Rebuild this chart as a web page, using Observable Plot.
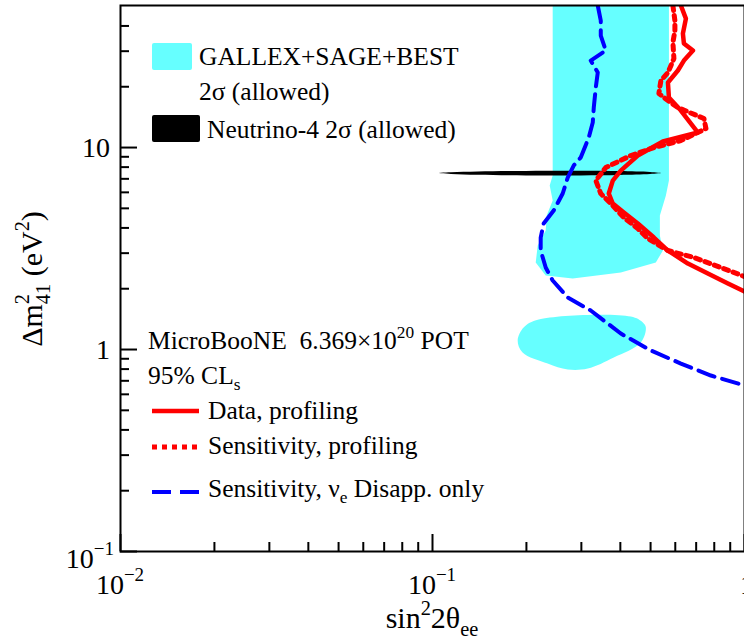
<!DOCTYPE html>
<html><head><meta charset="utf-8">
<script src="https://cdn.jsdelivr.net/npm/d3@7"></script>
<script src="https://cdn.jsdelivr.net/npm/@observablehq/plot@0.6"></script>
<style>body{margin:0;background:#fff} svg{font-family:"Liberation Serif","Times New Roman",serif}</style>
</head><body><div id="chart"></div><script>
// GALLEX+SAGE+BEST 2σ allowed region (upper band)
const gallexX = [0.2428, 0.5725, 0.5725, 0.5598, 0.5355, 0.5355, 0.5475, 0.5197, 0.4013, 0.2814, 0.2306, 0.2142, 0.2174, 0.2306, 0.2323, 0.2428, 0.2375, 0.2428];
const gallexY = [50.5, 50.5, 6.865, 5.786, 4.607, 3.667, 3.091, 2.696, 2.406, 2.246, 2.325, 2.696, 3.273, 3.883, 4.607, 5.465, 6.485, 7.27];
// GALLEX+SAGE+BEST lower island
const islandX = [0.1875, 0.1959, 0.2189, 0.4322, 0.4723, 0.4829, 0.4652, 0.3811, 0.3146, 0.2713, 0.2339, 0.1944];
const islandY = [1.108, 1.285, 1.408, 1.457, 1.361, 1.285, 1.083, 0.913, 0.805, 0.796, 0.852, 0.966];
// Neutrino-4 2σ allowed (thin lens)
const n4X = [0.1023, 0.115, 0.14, 0.2, 0.3, 0.4, 0.5, 0.548];
const n4Lo = [7.43, 7.36, 7.29, 7.24, 7.24, 7.27, 7.35, 7.43];
const n4Hi = [7.43, 7.50, 7.57, 7.62, 7.63, 7.60, 7.52, 7.43];
// Sensitivity, nu_e disappearance only (blue dashed)
const blueX = [0.3386, 0.3462, 0.3462, 0.3593, 0.3215, 0.3386, 0.3337, 0.3288, 0.3263, 0.3168, 0.2986, 0.2835, 0.2713, 0.2614, 0.2446, 0.2271, 0.2222, 0.2222, 0.2306, 0.2428, 0.2713, 0.3215, 0.4013, 0.5010, 0.6253, 0.7805, 1.0];
const blueY = [50.5, 42.5, 35.85, 30.21, 26.96, 23.51, 19.82, 15.78, 13.30, 11.21, 8.925, 8.146, 7.104, 5.921, 4.877, 4.205, 3.584, 3.091, 2.546, 2.196, 1.809, 1.560, 1.200, 0.989, 0.852, 0.7434, 0.6636];
// Data, profiling (red solid)
const dataX = [0.6253, 0.6489, 0.6347, 0.6394, 0.6835, 0.6394, 0.6116, 0.5683, 0.5725, 0.6253, 0.7091, 0.5475, 0.4550, 0.4013, 0.3783, 0.3673, 0.3783, 0.4104, 0.4550, 0.5124, 0.5683, 0.6586, 0.7632, 0.8851, 1.0];
const dataY = [50.5, 43.5, 36.68, 32.73, 30.21, 26.96, 24.06, 20.98, 17.68, 15.25, 11.87, 10.71, 9.13, 7.69, 6.865, 5.921, 5.283, 4.767, 4.205, 3.584, 3.091, 2.665, 2.378, 2.121, 1.937];
// Sensitivity, profiling (red dotted)
const sensX = [0.5896, 0.5983, 0.5983, 0.5896, 0.5940, 0.5683, 0.5395, 0.5316, 0.5683, 0.6116, 0.7413, 0.7524, 0.6253, 0.5124, 0.4322, 0.3593, 0.3337, 0.3462, 0.3728, 0.4104, 0.4550, 0.4900, 0.5683, 0.6886, 0.8406, 1.0];
const sensY = [50.5, 42.5, 37.95, 33.1, 27.58, 23.51, 21.46, 18.51, 17.09, 15.78, 13.92, 12.42, 10.83, 10.0, 9.13, 7.962, 6.865, 5.921, 5.283, 4.503, 3.972, 3.544, 3.091, 2.854, 2.546, 2.298];
// ticks
const xMajor = [0.01, 0.1, 1];
const xMinor = [0.02,0.03,0.04,0.05,0.06,0.07,0.08,0.09,0.2,0.3,0.4,0.5,0.6,0.7,0.8,0.9];
const yMajor = [0.1, 1, 10];
const yMinor = [0.2,0.3,0.4,0.5,0.6,0.7,0.8,0.9,2,3,4,5,6,7,8,9,20,30,40];
const xTickBase = ["10", "10", "1"];
const xTickExp = ["\u22122", "\u22121", ""];
const yTickBase = ["10", "1", "10"];
const yTickExp = ["\u22121", "", ""];

const pts = (xs, ys) => xs.map((x, i) => ({x, y: ys[i]}));
const lens = n4X.map((x, i) => ({x, lo: n4Lo[i], hi: n4Hi[i]}));
const cyan = "#66ffff", red = "#ff0000", blue = "#0000ff";

const W = 744, H = 642, ML = 120, MR = 0, MT = 5, MB = 91;
const innerW = W - ML - MR, innerH = H - MT - MB;

const chart = Plot.plot({
  width: W, height: H,
  marginLeft: ML, marginRight: MR, marginTop: MT, marginBottom: MB,
  style: {background: "white", fontFamily: "Liberation Serif, serif"},
  x: {type: "log", domain: [0.01, 1], axis: null},
  y: {type: "log", domain: [0.1, 50.5], axis: null},
  marks: [
    Plot.line(pts(gallexX, gallexY), {x: "x", y: "y", fill: cyan, stroke: "none", curve: "linear-closed", clip: true}),
    Plot.line(pts(islandX, islandY), {x: "x", y: "y", fill: cyan, stroke: "none", curve: "catmull-rom-closed", clip: true}),
    Plot.areaY(lens, {x: "x", y1: "lo", y2: "hi", fill: "black", curve: "catmull-rom"}),
    Plot.line(pts(blueX, blueY), {x: "x", y: "y", stroke: blue, strokeWidth: 4, strokeDasharray: "17,8", clip: true}),
    Plot.line(pts(sensX, sensY), {x: "x", y: "y", stroke: red, strokeWidth: 5, strokeDasharray: "5,5", clip: true}),
    Plot.line(pts(dataX, dataY), {x: "x", y: "y", stroke: red, strokeWidth: 4.5, clip: true}),
    // inward ticks (left and bottom)
    Plot.tickY(yMajor, {y: d => d, stroke: "black", strokeWidth: 2, insetRight: innerW - 17}),
    Plot.tickY(yMinor, {y: d => d, stroke: "black", strokeWidth: 2, insetRight: innerW - 9}),
    Plot.tickX(xMajor, {x: d => d, stroke: "black", strokeWidth: 2, insetTop: innerH - 17}),
    Plot.tickX(xMinor, {x: d => d, stroke: "black", strokeWidth: 2, insetTop: innerH - 9}),
    Plot.frame({stroke: "black", strokeWidth: 2})
  ]
});
document.getElementById("chart").appendChild(chart);

const sx = chart.scale("x"), sy = chart.scale("y");
const svg = d3.select(chart);
const g = svg.append("g").attr("font-family", "Liberation Serif, Times New Roman, serif").attr("fill", "black");

function rich(parent, {x, y, size, anchor = "start", rotate = false, parts}) {
  const t = parent.append("text").attr("x", x).attr("y", y).attr("font-size", size).attr("text-anchor", anchor);
  if (rotate) t.attr("transform", `rotate(-90 ${x} ${y})`);
  let cur = 0, prev = null;
  for (const [s, k = "n", back = false] of parts) {
    const fs = k === "n" ? size : size * 0.68;
    const off = k === "sup" ? -0.45 * size : k === "sub" ? 0.25 * size : 0;
    const ts = t.append("tspan").attr("font-size", fs).attr("dy", off - cur).text(s);
    if (back && prev) ts.attr("dx", -prev.node().getComputedTextLength());
    cur = off; prev = ts;
  }
  return t;
}

// tick labels
yMajor.forEach((v, i) => {
  const hasExp = yTickExp[i] !== "";
  const parts = [[yTickBase[i]]];
  if (hasExp) parts.push([yTickExp[i], "sup"]);
  rich(g, {x: hasExp ? 114 : 110, y: sy.apply(v) + (hasExp ? 17 : 10), size: 28, anchor: "end", parts});
});
xMajor.forEach((v, i) => {
  const parts = [[xTickBase[i]]];
  if (xTickExp[i] !== "") parts.push([xTickExp[i], "sup"]);
  const last = i === xMajor.length - 1;
  rich(g, {x: last ? sx.apply(v) - 4 : sx.apply(v), y: 594, size: 28, anchor: last ? "start" : "middle", parts});
});

// axis titles
rich(g, {x: 42, y: 279, size: 30, anchor: "middle", rotate: true,
  parts: [["\u0394m"], ["2", "sup"], ["41", "sub", true], ["\u00a0(eV"], ["2", "sup"], [")"]]});
rich(g, {x: 432, y: 628, size: 30, anchor: "middle",
  parts: [["sin"], ["2", "sup"], ["2\u03b8"], ["ee", "sub"]]});

// legend (top)
g.append("rect").attr("x", 152).attr("y", 43).attr("width", 40).attr("height", 27).attr("rx", 2).attr("fill", cyan);
rich(g, {x: 199, y: 65, size: 25.5, parts: [["GALLEX+SAGE+BEST"]]});
rich(g, {x: 199, y: 100, size: 25.5, parts: [["2\u03c3 (allowed)"]]});
g.append("rect").attr("x", 152).attr("y", 115).attr("width", 48).attr("height", 27).attr("rx", 2).attr("fill", "black");
rich(g, {x: 207, y: 138, size: 25.5, parts: [["Neutrino-4 2\u03c3 (allowed)"]]});

// legend (bottom)
rich(g, {x: 148, y: 349, size: 25.5, parts: [["MicroBooNE\u00a0\u00a06.369\u00d710"], ["20", "sup"], ["\u00a0POT"]]});
rich(g, {x: 148, y: 384, size: 25.5, parts: [["95% CL"], ["s", "sub"]]});
g.append("line").attr("x1", 152).attr("x2", 199).attr("y1", 411).attr("y2", 411).attr("stroke", red).attr("stroke-width", 4.5);
rich(g, {x: 208, y: 419, size: 25.5, parts: [["Data, profiling"]]});
g.append("line").attr("x1", 152).attr("x2", 199).attr("y1", 447).attr("y2", 447).attr("stroke", red).attr("stroke-width", 5).attr("stroke-dasharray", "5,5");
rich(g, {x: 208, y: 454, size: 25.5, parts: [["Sensitivity, profiling"]]});
g.append("line").attr("x1", 152).attr("x2", 199).attr("y1", 492).attr("y2", 492).attr("stroke", blue).attr("stroke-width", 4).attr("stroke-dasharray", "19,9");
rich(g, {x: 208, y: 497, size: 25.5, parts: [["Sensitivity, \u03bd"], ["e", "sub"], ["\u00a0Disapp. only"]]});
</script></body></html>
